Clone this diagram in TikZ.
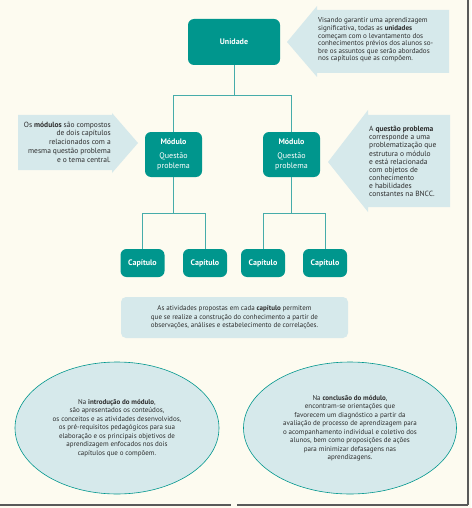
\documentclass[tikz,border=0pt]{standalone}
\usepackage{fontspec}
\setmainfont{PT Sans}
\usepackage{xcolor}
\usetikzlibrary{positioning,shapes.geometric}
\definecolor{tealbox}{RGB}{0,150,141}
\definecolor{tealline}{RGB}{70,172,170}
\definecolor{paleblue}{RGB}{214,233,235}
\definecolor{cream}{RGB}{253,251,240}
\definecolor{txtgray}{RGB}{45,45,45}

\begin{document}
\begin{tikzpicture}[x=1pt,y=-1pt,
  unit/.style={fill=tealbox,rounded corners=6pt,text=white,align=center,inner sep=0pt,font=\fontsize{8}{9.5}\selectfont},
  note/.style={text=txtgray,inner sep=0pt,font=\fontsize{7}{8.5}\selectfont},
  panel/.style={fill=paleblue,rounded corners=5pt,text=txtgray,align=center,inner sep=0pt,font=\fontsize{7}{8.5}\selectfont},
  oval/.style={ellipse,draw=tealbox,line width=0.6pt,fill=paleblue,inner sep=0pt},
  ln/.style={draw=tealline,line width=1pt},
  frame/.style={draw=black!65,line width=1.2pt}]
\useasboundingbox (0,0) rectangle (471,508);
\fill[cream] (0,0) rectangle (471,508);
% callouts
\fill[paleblue] (287,42) -- (317,6) -- (317,10) -- (449,10) -- (449,73) -- (317,73) -- (317,77) -- cycle;
\fill[paleblue] (138,143) -- (112,113) -- (112,115) -- (18,115) -- (18,170) -- (112,170) -- (112,173) -- cycle;
\fill[paleblue] (328,162) -- (368,110) -- (368,115) -- (450,115) -- (450,207) -- (368,207) -- (368,212) -- cycle;
\node[note,align=left,anchor=west,font=\fontsize{7.1}{7.6}\selectfont] (nunid) at (318,40) {Visando garantir uma aprendizagem\\significativa, todas as \textbf{unidades}\\começam com o levantamento dos\\conhecimentos prévios dos alunos so-\\bre os assuntos que serão abordados\\nos capítulos que as compõem.};
\node[note,align=right,anchor=east,font=\fontsize{7.5}{8.8}\selectfont] (nmod) at (111,142) {Os \textbf{módulos} são compostos\\de dois capítulos\\relacionados com a\\mesma questão problema\\e o tema central.};
\node[note,align=left,anchor=west,font=\fontsize{7.5}{8.1}\selectfont] (nquest) at (369,161.5) {A \textbf{questão problema}\\corresponde a uma\\problematização que\\estrutura o módulo\\e está relacionada\\com objetos de\\conhecimento\\e habilidades\\constantes na BNCC.};
% tree
\node[unit,minimum width=92pt,minimum height=46pt] (unidade) at (234,42) {\textbf{Unidade}};
\node[unit,minimum width=57pt,minimum height=45pt] (modA) at (173.5,154.5) {\textbf{Módulo}\\[4.5pt]Questão\\problema};
\node[unit,minimum width=57pt,minimum height=45pt] (modB) at (291.5,154.5) {\textbf{Módulo}\\[4.5pt]Questão\\problema};
\node[unit,minimum width=44pt,minimum height=28pt] (capA) at (142.5,263) {\textbf{Capítulo}};
\node[unit,minimum width=44pt,minimum height=28pt] (capB) at (205,263) {\textbf{Capítulo}};
\node[unit,minimum width=44pt,minimum height=28pt] (capC) at (263,263) {\textbf{Capítulo}};
\node[unit,minimum width=44pt,minimum height=28pt] (capD) at (325,263) {\textbf{Capítulo}};
\draw[ln] (unidade.south) -- ++(0,30) -| (modA.north);
\draw[ln] (unidade.south) -- ++(0,30) -| (modB.north);
\draw[ln] (modA.south) -- ++(0,36) -| (capA.north);
\draw[ln] (modA.south) -- ++(0,36) -| (capB.north);
\draw[ln] (modB.south) -- ++(0,36) -| (capC.north);
\draw[ln] (modB.south) -- ++(0,36) -| (capD.north);
% bottom
\node[panel,minimum width=227pt,minimum height=41pt] (ativ) at (234.5,317.5) {As atividades propostas em cada \textbf{capítulo} permitem\\que se realize a construção do conhecimento a partir de\\observações, análises e estabelecimento de correlações.};
\node[oval,minimum width=204pt,minimum height=132pt] (intro) at (117,428) {};
\node[note,align=center] (introtxt) at (intro.center) {Na \textbf{introdução do módulo},\\são apresentados os conteúdos,\\os conceitos e as atividades desenvolvidos,\\os pré-requisitos pedagógicos para sua\\elaboração e os principais objetivos de\\aprendizagem enfocados nos dois\\capítulos que o compõem.};
\node[oval,minimum width=213pt,minimum height=132pt] (concl) at (350,428) {};
\node[note,align=center] (concltxt) at (concl.center) {Na \textbf{conclusão do módulo},\\encontram-se orientações que\\favorecem um diagnóstico a partir da\\avaliação de processo de aprendizagem para\\o acompanhamento individual e coletivo dos\\alunos, bem como proposições de ações\\para minimizar defasagens nas\\aprendizagens.};
\draw[frame] (468,0) -- (468,505);
\draw[frame] (0,505) -- (231,505);
\draw[frame] (237,505) -- (468,505);
\end{tikzpicture}
\end{document}
